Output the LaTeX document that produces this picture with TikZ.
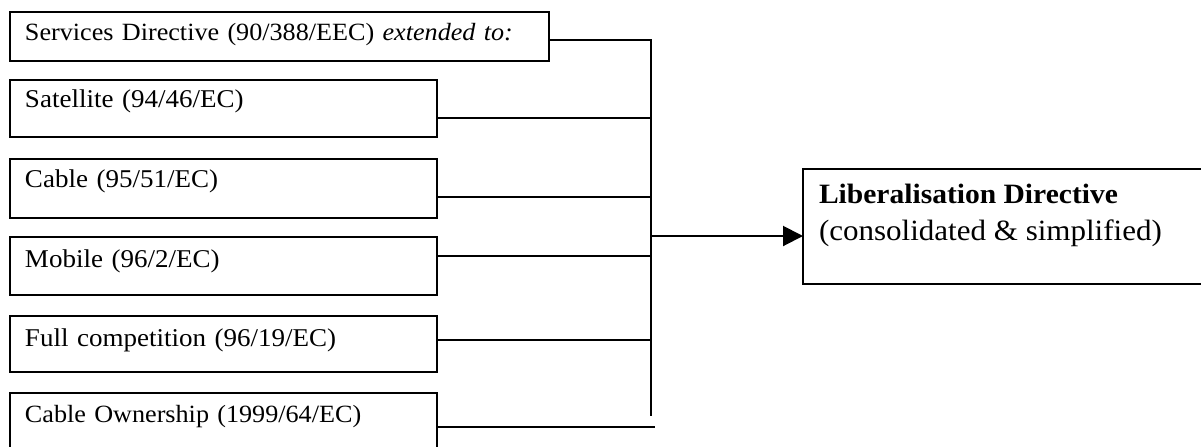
\documentclass[tikz,border=0pt]{standalone}
\usepackage{fontspec}
\setmainfont{Liberation Serif}[FakeStretch=1.055]
\usetikzlibrary{arrows.meta}

\begin{document}
\begin{tikzpicture}[x=0.5pt,y=-0.5pt,
  every node/.style={inner sep=0pt, outer sep=0pt},
  dirbox/.style={draw, line width=1pt, rectangle, anchor=north west,
    minimum width=213.5pt, text width=198.5pt, inner xsep=7.5pt,
    font=\fontsize{12.8}{15}\selectfont},
  wire/.style={line width=1pt},
  libbox/.style={draw, line width=1pt, rectangle, anchor=north west,
    minimum width=206pt, minimum height=57.5pt},
  libtext/.style={anchor=base west, font=\fontsize{14.7}{17}\selectfont}]

\useasboundingbox (0,0) rectangle (1201,446);

% directive boxes: text height = baseline offset from top, depth = rest
\node[dirbox, minimum width=269.5pt, text width=254.5pt,
      minimum height=24.5pt, text height=14pt, text depth=10.5pt,
      font=\fontsize{12.4}{15}\selectfont]
  (b1) at (10,12) {Services Directive (90/388/EEC) \textit{extended to:}};
\node[dirbox, minimum height=28.5pt, text height=13.5pt, text depth=15pt]
  (b2) at (10,80) {Satellite (94/46/EC)};
\node[dirbox, minimum height=29.5pt, text height=14pt, text depth=15.5pt]
  (b3) at (10,159) {Cable (95/51/EC)};
\node[dirbox, minimum height=29pt, text height=15pt, text depth=14pt]
  (b4) at (10,237) {Mobile (96/2/EC)};
\node[dirbox, minimum height=28pt, text height=15pt, text depth=13pt]
  (b5) at (10,316) {Full competition (96/19/EC)};
\node[dirbox, minimum height=30pt, text height=14.5pt, text depth=15.5pt,
      font=\fontsize{12.4}{15}\selectfont]
  (b6) at (10,393) {Cable Ownership (1999/64/EC)};

% target box
\node[libbox] (lib) at (803,169) {};
\node[libtext, font=\fontsize{14}{17}\selectfont\bfseries] (libtitle) at (819,203) {Liberalisation Directive};
\node[libtext] (libsub) at (819,240) {(consolidated \& simplified)};

% junction points on the collecting bus
\coordinate (j1) at (651,40);
\coordinate (j2) at (651,118);
\coordinate (j3) at (651,197);
\coordinate (j4) at (651,256);
\coordinate (j5) at (651,340);
\coordinate (jend) at (651,416);
\coordinate (j6) at (655,427);
\coordinate (ja) at (651,236);

\draw[wire] (b1.east |- j1) -- (j1);
\draw[wire] (b2.east |- j2) -- (j2);
\draw[wire] (b3.east |- j3) -- (j3);
\draw[wire] (b4.east |- j4) -- (j4);
\draw[wire] (b5.east |- j5) -- (j5);
\draw[wire] (b6.east |- j6) -- (j6);
\draw[wire] ([yshift=0.5pt]j1) -- (jend);

\draw[wire, -{Triangle[length=10pt,width=10pt]}] (ja) -- (lib.west |- ja);

\end{tikzpicture}
\end{document}
